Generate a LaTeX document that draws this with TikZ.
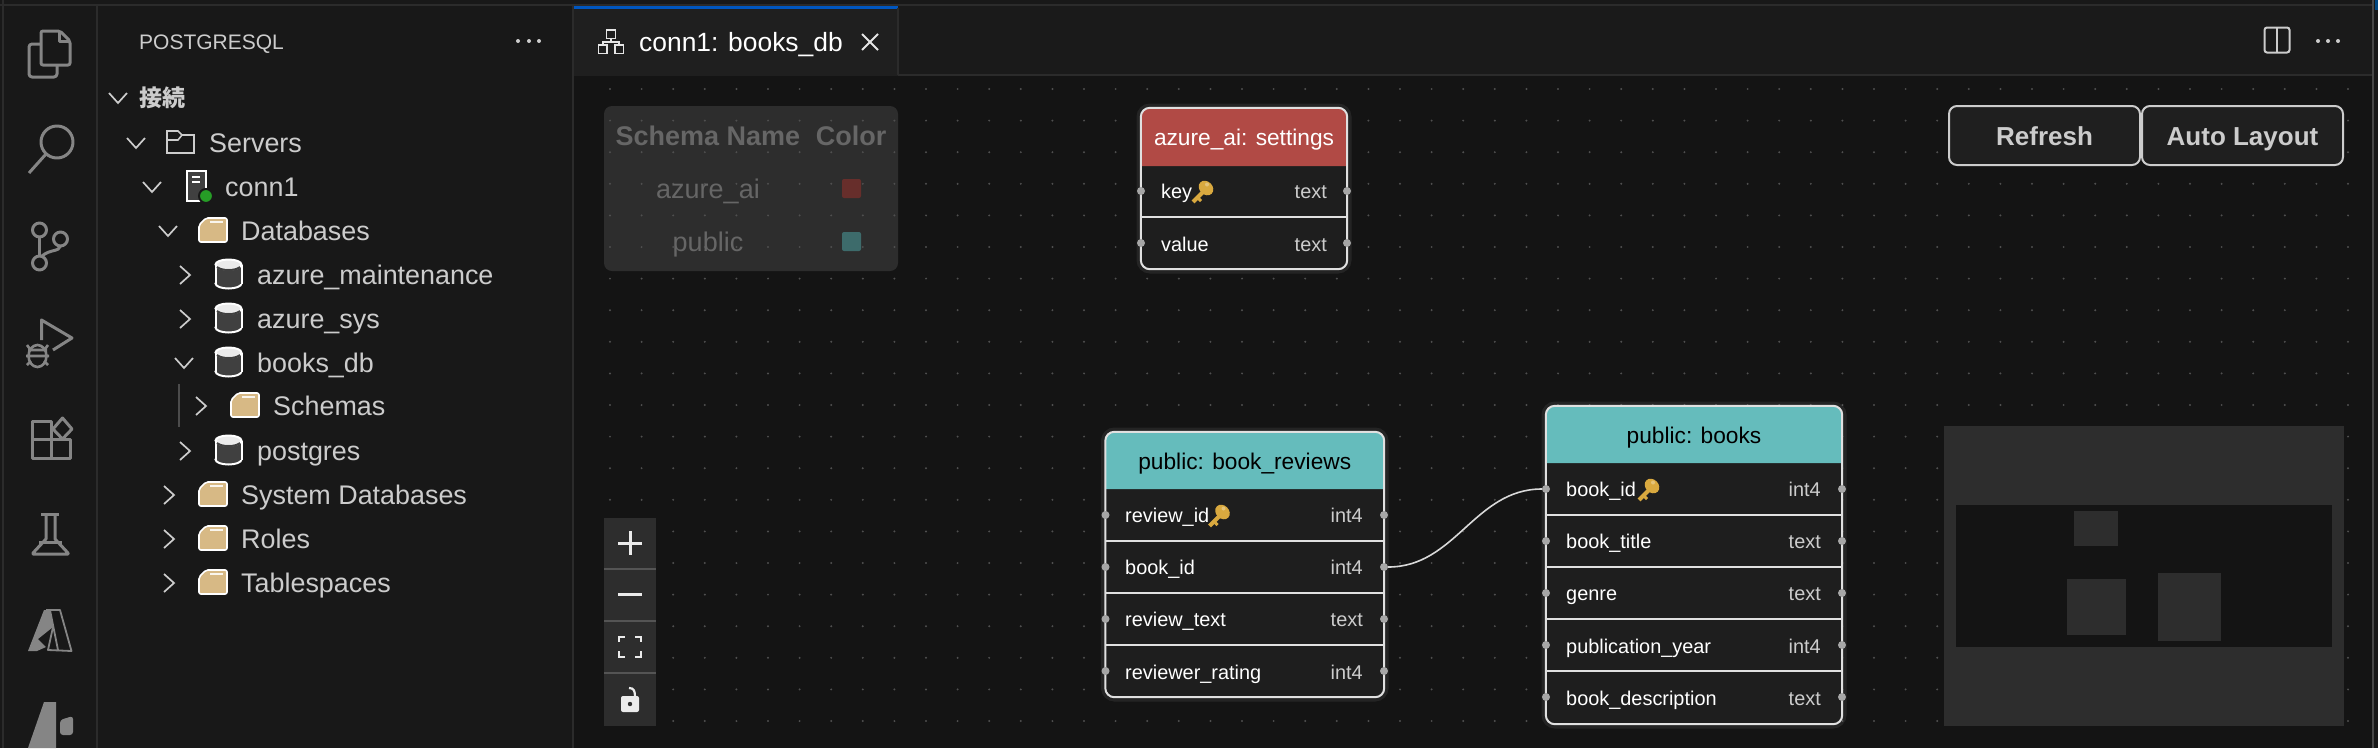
\documentclass[tikz,border=0pt]{standalone}
\usepackage{fontspec}
\setmainfont{Liberation Sans}
\newfontfamily\cjk{Noto Sans CJK JP}
\usepackage{pgf,tikz}
\usetikzlibrary{shapes,arrows,positioning,backgrounds}
\definecolor{barbg}{HTML}{181818}
\definecolor{canvasbg}{HTML}{141414}
\definecolor{tabbar}{HTML}{1A1A1A}
\definecolor{tabon}{HTML}{1F1F1F}
\definecolor{seam}{HTML}{2B2B2B}
\definecolor{iconcol}{HTML}{858585}
\definecolor{treetxt}{HTML}{CCCCCC}
\definecolor{foldertan}{HTML}{D7B985}
\definecolor{keygold}{HTML}{D9A93F}
\definecolor{panelbg}{HTML}{2D2D2D}
\definecolor{legendtxt}{HTML}{666666}
\definecolor{swatchred}{HTML}{672E2B}
\definecolor{swatchteal}{HTML}{3D6B6B}
\definecolor{rowbg}{HTML}{1E1E1E}
\definecolor{hdrred}{HTML}{B14A45}
\definecolor{hdrteal}{HTML}{65BCBC}
\tikzset{%
treelabel/.style={inner sep=0pt, text height=23pt, text depth=5pt, anchor=west, text=treetxt, font=\fontsize{26.9}{30}\selectfont},
rowname/.style={inner sep=0pt, text height=19pt, text depth=5pt, anchor=west, text=white, font=\fontsize{19.9}{24}\selectfont},
rowtype/.style={inner sep=0pt, text height=19pt, text depth=5pt, anchor=east, text=treetxt, font=\fontsize{19.9}{24}\selectfont},
hdrlabel/.style={inner sep=0pt, text height=22pt, text depth=6pt, font=\fontsize{22.7}{27}\selectfont},
legendhead/.style={inner sep=0pt, text height=24pt, text depth=5pt, text=legendtxt, font=\fontsize{27}{30}\selectfont\bfseries},
legendrow/.style={inner sep=0pt, text height=24pt, text depth=5pt, text=legendtxt, font=\fontsize{27}{30}\selectfont},
btnbox/.style={draw=treetxt, line width=2pt, fill=tabon, rounded corners=8pt, inner sep=0pt, text height=25pt, text depth=5pt, text=treetxt, font=\fontsize{26}{30}\selectfont\bfseries},
tblbody/.style={fill=rowbg, rounded corners=9pt, inner sep=0pt, preaction={draw=white, opacity=.07, line width=9pt}},
tblframe/.style={draw=white!88!black, line width=2pt, rounded corners=9pt},
rowline/.style={draw=white!88!black, line width=2pt},
pinpt/.style={circle, fill=white!65!black, inner sep=0pt, minimum size=8pt},
linkline/.style={draw=white!85!black, line width=1.6pt},
griddot/.style={fill=white!25!canvasbg},
seamline/.style={draw=seam, line width=2pt},
iconline/.style={draw=iconcol, line width=3pt, line join=round},
chevline/.style={draw=treetxt, line width=1.7pt},
uiline/.style={draw=treetxt, line width=2pt},
chevdown/.pic={\draw[chevline] (-9,-5) -- (0,5) -- (9,-5);},
chevright/.pic={\draw[chevline] (-5,-9) -- (5,0) -- (-5,9);},
folderico/.pic={
	\filldraw[fill=foldertan, draw=white, line width=1.6pt, rounded corners=2pt] (-14,12) -- (-14,-5) -- (-7,-12) -- (14,-12) -- (14,12) -- cycle;
	\draw[white!85!foldertan, line width=2pt] (-3,-8) -- (10,-8);},
dbico/.pic={
	\filldraw[fill=white!25!black, draw=white, line width=2pt] (0,9.5) ellipse (13 and 5);
	\fill[white!25!black] (-13,-9) rectangle (13,9.5);
	\draw[white, line width=2pt] (-13,-9) -- (-13,9.5) (13,-9) -- (13,9.5);
	\filldraw[fill=white!92!black, draw=white, line width=2pt] (0,-9.5) ellipse (13 and 5);
	\draw[white!25!black, line width=2pt] (-11.5,-7) .. controls (-7,-3) and (7,-3) .. (11.5,-7);},
keyicon/.pic={
	\draw[keygold, line width=4pt] (14,9) -- (2,21);
	\draw[keygold, line width=3pt] (6,16) -- (10,20);
	\fill[keygold, rotate around={45:(15,7)}] (15,7) ellipse (6.5 and 8);
	\fill[white!30!keygold] (16,3.5) circle (2);}
}
\begin{document}
\begin{tikzpicture}[x=1pt, y=-1pt]
	\useasboundingbox (0,0) rectangle (2378,748);
	\fill[barbg] (0,0) rectangle (2378,748);
	\fill[canvasbg] (574,76) rectangle (2373,748);
	\fill[tabbar] (574,6) rectangle (2373,75);
	\fill[tabon] (574,6) rectangle (898,76);
	\fill[blue!55!cyan!75!black] (574,6) rectangle (898,8.5);
	\fill[blue!45!cyan!50!black] (2375,0) rectangle (2378,10);
	\draw[seamline] (0,5) -- (2373,5);
	\draw[seamline] (3,0) -- (3,748);
	\draw[seamline] (97,6) -- (97,748);
	\draw[seamline] (573,6) -- (573,748);
	\draw[seamline] (898,8) -- (898,75);
	\draw[seamline] (898,75) -- (2373,75);
	\draw[white!28!black, line width=2pt] (2373,0) -- (2373,748);

	\draw[iconline, rounded corners=3pt] (41,44) -- (29,44) -- (29,77) -- (57,77) -- (57,65);
	\draw[iconline, rounded corners=2pt] (41,31) -- (60,31) -- (70,41) -- (70,65) -- (41,65) -- cycle;
	\draw[iconline] (59,31) -- (59,41) -- (70,41);
	\draw[iconline] (57,142) circle (16);
	\draw[iconline] (46,154) -- (29,173);
	\draw[iconline] (39.5,230) circle (7);
	\draw[iconline] (39.5,263) circle (7);
	\draw[iconline] (60.5,239) circle (7);
	\draw[iconline] (39.5,237) -- (39.5,256);
	\draw[iconline] (60.5,246) .. controls (59,252) and (50,249) .. (42,256);
	\draw[iconline] (41.5,340) -- (41.5,320) -- (72,338) -- (53,350);
	\draw[iconline, line width=2.6pt] (37.5,356) ellipse (9 and 11);
	\draw[iconline, line width=2.6pt] (28,350) -- (47,350) (27,345) -- (30,349) (48,345) -- (45,349) (26,356) -- (49,356) (27,365) -- (31,361) (48,365) -- (44,361);
	\draw[iconline] (32,421) rectangle (51,439.5);
	\draw[iconline] (32,439.5) rectangle (51,458);
	\draw[iconline] (51,439.5) rectangle (70,458);
	\draw[iconline] (62.5,418) -- (72,429) -- (62.5,439) -- (53,429) -- cycle;
	\draw[iconline] (41,514) -- (59,514);
	\draw[iconline] (46,514) -- (46,539) -- (33,553) -- (33,554) -- (68,554) -- (68,553) -- (55,539) -- (55,514);
	\draw[iconline] (39,542) -- (62,542);
	\fill[iconcol] (28,651) -- (44,610) -- (50,610) -- (53,627) -- (38,639) -- (46,647) -- (37,651) -- cycle;
	\draw[iconcol, line width=1.8pt, line join=round] (46,610) -- (60,610) -- (71.5,651) -- (48,650) -- (53,627);
	\draw[iconcol, line width=1.8pt] (50,610) -- (58,650);
	\fill[iconcol] (28,748) -- (44,702) -- (56,702) -- (56,748) -- cycle;
	\fill[iconcol, rounded corners=3pt] (60,720) -- (73,716) -- (73,735) -- (60,735) -- cycle;

	\node[treelabel, text height=21pt, font=\fontsize{21}{26}\selectfont] (viewtitle) at (139,41) {POSTGRESQL};
	\fill[treetxt] (518,41) circle (2);
	\fill[treetxt] (529,41) circle (2);
	\fill[treetxt] (539,41) circle (2);
	\node[treelabel, text height=21pt, font=\fontsize{23}{27}\selectfont\cjk\bfseries] (conngroup) at (139,98) {接続};
	\pic at (118,98) {chevdown};
	\node[treelabel] (servers) at (209,143) {Servers};
	\pic at (136,143) {chevdown};
	\draw[treetxt, line width=1.6pt] (167,153) -- (167,131) -- (178,131) -- (182,135) -- (194,135) -- (194,153) -- cycle;
	\draw[treetxt, line width=1.6pt] (167,140) -- (178,140) -- (182,135);
	\node[treelabel] (conn) at (225,187) {conn1};
	\pic at (152,187) {chevdown};
	\filldraw[fill=white!25!black, draw=white, line width=2pt] (187,171) rectangle (205.5,201);
	\draw[white, line width=2pt] (192,177) -- (200,177) (192,182) -- (200,182);
	\filldraw[fill=green!55!black!85!white, draw=barbg, line width=2pt] (206,196) circle (7);
	\node[treelabel] (databases) at (241,231) {Databases};
	\pic at (168,231) {chevdown};
	\pic at (213,230) {folderico};
	\node[treelabel] (azmaint) at (257,275) {azure\_maintenance};
	\pic at (185,275) {chevright};
	\pic at (228.5,274) {dbico};
	\node[treelabel] (azsys) at (257,319) {azure\_sys};
	\pic at (185,319) {chevright};
	\pic at (228.5,318) {dbico};
	\node[treelabel] (booksdb) at (257,363) {books\_db};
	\pic at (184,363) {chevdown};
	\pic at (228.5,362) {dbico};
	\draw[white!30!black, line width=1.6pt] (179,384) -- (179,427);
	\node[treelabel] (schemas) at (273,406) {Schemas};
	\pic at (201,406) {chevright};
	\pic at (245,405) {folderico};
	\node[treelabel] (postgres) at (257,451) {postgres};
	\pic at (185,451) {chevright};
	\pic at (228.5,450) {dbico};
	\node[treelabel] (sysdb) at (241,495) {System Databases};
	\pic at (169,495) {chevright};
	\pic at (213,494) {folderico};
	\node[treelabel] (roles) at (241,539) {Roles};
	\pic at (169,539) {chevright};
	\pic at (213,538) {folderico};
	\node[treelabel] (tablespaces) at (241,583) {Tablespaces};
	\pic at (169,583) {chevright};
	\pic at (213,582) {folderico};

	\draw[white!90!black, line width=1.8pt] (606.5,30) rectangle (615.5,38.5) (598.5,45) rectangle (607,53.5) (615,45) rectangle (623.5,53.5) (611,38.5) -- (611,42) (603,45) -- (603,42) -- (619,42) -- (619,45);
	\node[treelabel, text=white, font=\fontsize{26.4}{30}\selectfont] (tabtitle) at (639,42) {conn1: books\_db};
	\draw[white!90!black, line width=2pt] (862,34) -- (878,50) (878,34) -- (862,50);
	\draw[uiline, rounded corners=2.5pt] (2264.5,27.5) rectangle (2289.5,52.5);
	\draw[uiline] (2277,28) -- (2277,52);
	\fill[treetxt] (2318,41) circle (2);
	\fill[treetxt] (2328,41) circle (2);
	\fill[treetxt] (2338,41) circle (2);

	\fill[panelbg, rounded corners=8pt] (604,106) rectangle (898,271);
	\foreach \i in {0,...,55}
		\foreach \j in {0,...,20}
			\fill[griddot] ({610+\i*31.6},{89+\j*31.6}) circle (1.1);
	\node[legendhead] (legendname) at (708,136) {Schema Name};
	\node[legendhead] (legendcolor) at (851,136) {Color};
	\node[legendrow] (legendazure) at (708,189) {azure\_ai};
	\node[legendrow] (legendpublic) at (708,242) {public};
	\fill[swatchred, rounded corners=2pt] (842,179) rectangle (861,198);
	\fill[swatchteal, rounded corners=2pt] (842,232) rectangle (861,251);

	\node[btnbox, minimum width=191pt, minimum height=59pt] (refresh) at (2044.5,135.5) {Refresh};
	\node[btnbox, minimum width=201pt, minimum height=59pt] (autolayout) at (2242.5,135.5) {Auto Layout};

	\fill[panelbg] (604,518) rectangle (656,726);
	\draw[white!33!black, line width=2pt] (604,568.5) -- (656,568.5) (604,621) -- (656,621) (604,673) -- (656,673);
	\draw[white!92!black, line width=3pt] (618,543) -- (642,543) (630,531) -- (630,555);
	\draw[white!92!black, line width=3pt] (618,594) -- (642,594);
	\draw[white!92!black, line width=2.6pt] (619,642) -- (619,637) -- (625,637) (635,637) -- (641,637) -- (641,642) (641,651) -- (641,657) -- (635,657) (625,657) -- (619,657) -- (619,651);
	\draw[white!92!black, line width=2.2pt] (629,688) .. controls (634,688) and (635,691) .. (635,697);
	\fill[white!92!black, rounded corners=2pt] (621,696) rectangle (639,712);
	\fill[panelbg] (630,704) circle (2.2);

	\fill[panelbg] (1944,426) rectangle (2344,726);
	\fill[canvasbg] (1956,505) rectangle (2332,647);
	\fill[panelbg] (2074,511) rectangle (2118,546);
	\fill[panelbg] (2067,579) rectangle (2126,635);
	\fill[panelbg] (2158,573) rectangle (2221,641);

	\node[tblbody, minimum width=206pt, minimum height=161pt] (settingsbox) at (1244,188.5) {};
	\fill[hdrred] (1141,166) [rounded corners=9pt] -- (1141,108) -- (1347,108) [sharp corners] -- (1347,166) -- cycle;
	\draw[tblframe] (settingsbox.north west) rectangle (settingsbox.south east);
	\node[hdrlabel, text=white] (settingshead) at (1244,137) {azure\_ai: settings};
	\node[rowname] (skey) at (1161,191) {key};
	\pic at (1191,181) {keyicon};
	\node[rowtype] (skeytype) at (1327,191) {text};
	\node[rowname] (sval) at (1161,244) {value};
	\node[rowtype] (svaltype) at (1327,244) {text};
	\draw[rowline] (1141,217) -- (1347,217);
	\node[pinpt] (skeyl) at (1141,191) {};
	\node[pinpt] (skeyr) at (1347,191) {};
	\node[pinpt] (svall) at (1141,243) {};
	\node[pinpt] (svalr) at (1347,243) {};

	\node[tblbody, minimum width=278.5pt, minimum height=265pt] (reviewsbox) at (1244.75,564.5) {};
	\fill[hdrteal] (1105.5,489) [rounded corners=9pt] -- (1105.5,432) -- (1384,432) [sharp corners] -- (1384,489) -- cycle;
	\draw[tblframe] (reviewsbox.north west) rectangle (reviewsbox.south east);
	\node[hdrlabel, text=black] (reviewshead) at (1244.75,461) {public: book\_reviews};
	\node[rowname] (rvid) at (1125,515) {review\_id};
	\pic at (1207.5,505) {keyicon};
	\node[rowtype] (rvidtype) at (1363,515) {int4};
	\node[rowname] (rvbook) at (1125,567) {book\_id};
	\node[rowtype] (rvbooktype) at (1363,567) {int4};
	\node[rowname] (rvtext) at (1125,619) {review\_text};
	\node[rowtype] (rvtexttype) at (1363,619) {text};
	\node[rowname] (rvrate) at (1125,672) {reviewer\_rating};
	\node[rowtype] (rvratetype) at (1363,672) {int4};
	\draw[rowline] (1105.5,541) -- (1384,541);
	\draw[rowline] (1105.5,593) -- (1384,593);
	\draw[rowline] (1105.5,645) -- (1384,645);
	\node[pinpt] (rvidl) at (1105.5,515) {};
	\node[pinpt] (rvidr) at (1384,515) {};
	\node[pinpt] (rvbookl) at (1105.5,567) {};
	\node[pinpt] (rvbookr) at (1384,567) {};
	\node[pinpt] (rvtextl) at (1105.5,619) {};
	\node[pinpt] (rvtextr) at (1384,619) {};
	\node[pinpt] (rvratel) at (1105.5,671) {};
	\node[pinpt] (rvrater) at (1384,671) {};

	\node[tblbody, minimum width=296pt, minimum height=318pt] (booksbox) at (1694,565) {};
	\fill[hdrteal] (1546,463) [rounded corners=9pt] -- (1546,406) -- (1842,406) [sharp corners] -- (1842,463) -- cycle;
	\draw[tblframe] (booksbox.north west) rectangle (booksbox.south east);
	\node[hdrlabel, text=black] (bookshead) at (1694,435) {public: books};
	\node[rowname] (bkid) at (1566,489) {book\_id};
	\pic at (1637,479) {keyicon};
	\node[rowtype] (bkidtype) at (1821,489) {int4};
	\node[rowname] (bktitle) at (1566,541) {book\_title};
	\node[rowtype] (bktitletype) at (1821,541) {text};
	\node[rowname] (bkgenre) at (1566,593) {genre};
	\node[rowtype] (bkgenretype) at (1821,593) {text};
	\node[rowname] (bkyear) at (1566,646) {publication\_year};
	\node[rowtype] (bkyeartype) at (1821,646) {int4};
	\node[rowname] (bkdesc) at (1566,698) {book\_description};
	\node[rowtype] (bkdesctype) at (1821,698) {text};
	\draw[rowline] (1546,515) -- (1842,515);
	\draw[rowline] (1546,567) -- (1842,567);
	\draw[rowline] (1546,619) -- (1842,619);
	\draw[rowline] (1546,671) -- (1842,671);
	\node[pinpt] (bkidl) at (1546,489) {};
	\node[pinpt] (bkidr) at (1842,489) {};
	\node[pinpt] (bktitlel) at (1546,541) {};
	\node[pinpt] (bktitler) at (1842,541) {};
	\node[pinpt] (bkgenrel) at (1546,593) {};
	\node[pinpt] (bkgenrer) at (1842,593) {};
	\node[pinpt] (bkyearl) at (1546,645) {};
	\node[pinpt] (bkyearr) at (1842,645) {};
	\node[pinpt] (bkdescl) at (1546,697) {};
	\node[pinpt] (bkdescr) at (1842,697) {};

	\draw[linkline] (rvbookr) to[out=0, in=180] (bkidl);
\end{tikzpicture}
\end{document}
